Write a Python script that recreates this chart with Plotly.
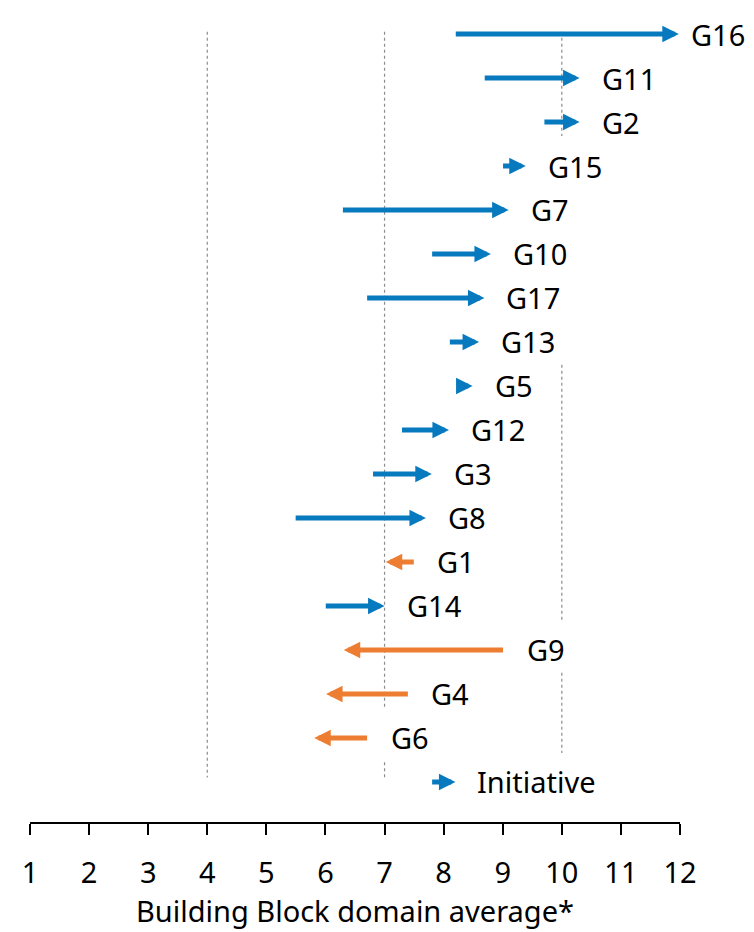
import plotly.graph_objects as go

# ---- data ----
groups = ["G16", "G11", "G2", "G15", "G7", "G10", "G17", "G13", "G5",
          "G12", "G3", "G8", "G1", "G14", "G9", "G4", "G6"]
start_values = [8.18, 8.67, 9.68, 8.98, 6.27, 7.78, 6.68, 8.08, 8.33,
                7.27, 6.78, 5.47, 7.52, 5.98, 9.03, 7.42, 6.73]
end_values = [11.98, 10.30, 10.30, 9.39, 9.10, 8.80, 8.69, 8.60, 8.49,
              8.09, 7.80, 7.70, 7.02, 7.00, 6.31, 6.01, 5.81]
legend_label = "Initiative"
legend_start = 7.78
legend_end = 8.20
x_tick_values = list(range(1, 13))
x_title = "Building Block domain average*"

# ---- style ----
BLUE = "#0779BE"
ORANGE = "#ED7D31"
FONT = "Noto Sans"
FS = 29
GRID = "#8c8c8c"

# gridline segments (x value, from row, to row) -- row index space
grid_segments = [
    (4, -0.05, 16.9),
    (7, -0.05, 15.3), (7, 16.55, 16.9),
    (10, -0.05, 2.32), (10, 7.52, 13.36), (10, 14.52, 16.34),
]

fig = go.Figure()
# invisible trace to set up axes
fig.add_trace(go.Scatter(x=[1, 12], y=[0, 0], mode="markers",
                         marker=dict(opacity=0), showlegend=False, hoverinfo="skip"))

annotations = []
rows = list(range(len(groups))) + [len(groups)]
all_labels = groups + [legend_label]
all_start = start_values + [legend_start]
all_end = end_values + [legend_end]

for r, lab, s, e in zip(rows, all_labels, all_start, all_end):
    color = BLUE if e >= s else ORANGE
    annotations.append(dict(
        x=e, y=r, xref="x", yref="y",
        ax=s, ay=r, axref="x", ayref="y",
        text="", showarrow=True,
        arrowhead=2, arrowsize=0.66, arrowwidth=5, arrowcolor=color,
        standoff=0, startstandoff=0,
    ))
    right = max(s, e)
    shift = 10 if right > 11.5 else 20
    annotations.append(dict(
        x=right, y=r, xref="x", yref="y",
        text=lab, showarrow=False, xanchor="left", yanchor="middle",
        xshift=shift, yshift=0,
        font=dict(family=FONT, size=FS, color="#000000"),
    ))

shapes = []
for gx, y0, y1 in grid_segments:
    shapes.append(dict(type="line", xref="x", yref="y", x0=gx, x1=gx, y0=y0, y1=y1,
                       line=dict(color=GRID, width=1.2, dash="dot"), layer="below"))

fig.update_layout(
    width=746, height=924,
    margin=dict(l=22, r=74, t=0, b=110),
    paper_bgcolor="white", plot_bgcolor="white",
    showlegend=False,
    annotations=annotations,
    shapes=shapes,
    xaxis=dict(
        range=[1, 12], tickvals=x_tick_values, ticktext=[str(v) for v in x_tick_values],
        showgrid=False, zeroline=False,
        showline=True, linecolor="#000000", linewidth=2,
        ticks="outside", ticklen=11, tickwidth=2, tickcolor="#000000",
        ticklabelstandoff=13,
        tickfont=dict(family=FONT, size=FS, color="#000000"),
        title=dict(text=x_title, font=dict(family=FONT, size=FS, color="#000000"), standoff=5),
    ),
    yaxis=dict(
        range=[17.91, -0.591], showgrid=False, zeroline=False, showline=False,
        showticklabels=False, ticks="",
    ),
)

fig.write_html("out.html")
